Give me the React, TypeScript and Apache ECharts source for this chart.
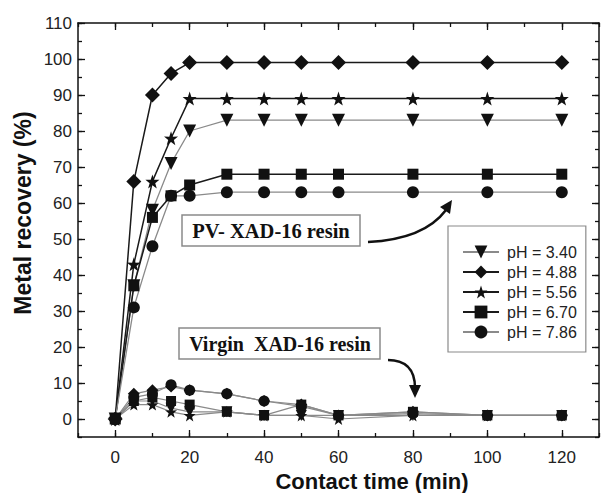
import React, { useEffect, useRef } from 'react';
import * as echarts from 'echarts';

// Contact time (min)
const times = [0, 5, 10, 15, 20, 30, 40, 50, 60, 80, 100, 120];
const legendNames = ['pH = 3.40', 'pH = 4.88', 'pH = 5.56', 'pH = 6.70', 'pH = 7.86'];

// PV- XAD-16 resin, metal recovery (%)
const pv340 = [0, 37, 58, 71, 80, 83, 83, 83, 83, 83, 83, 83];
const pv488 = [0, 66, 90, 96, 99, 99, 99, 99, 99, 99, 99, 99];
const pv556 = [0, 43, 66, 78, 89, 89, 89, 89, 89, 89, 89, 89];
const pv670 = [0, 37, 56, 62, 65, 68, 68, 68, 68, 68, 68, 68];
const pv786 = [0, 31, 48, 62, 62, 63, 63, 63, 63, 63, 63, 63];

// Virgin XAD-16 resin, metal recovery (%)
const vg340 = [0, 5, 5, 3, 2, 2, 1, 1, 1, 1, 1, 1];
const vg488 = [0, 7, 8, 9, 8, 7, 5, 4, 1, 2, 1, 1];
const vg556 = [0, 4, 4, 2, 1, 2, 1, 1, 0, 1, 1, 1];
const vg670 = [0, 5, 6, 5, 4, 2, 1, 4, 1, 2, 1, 1];
const vg786 = [0, 6, 7, 9.5, 8, 7, 5, 3.5, 1, 1.5, 1, 1];

// Axis ticks
const xMajorTicks = [0, 20, 40, 60, 80, 100, 120];
const yMajorTicks = [0, 10, 20, 30, 40, 50, 60, 70, 80, 90, 100, 110];

const TRI_DOWN = 'path://M0,0 L10,0 L5,9 Z';
const STAR = 'path://M50,0 L61.8,35.1 L97.6,34.5 L69.1,56.9 L79.4,90.5 L50,70 L20.6,90.5 L30.9,56.9 L2.4,34.5 L38.2,35.1 Z';

const FONT = '"Liberation Sans", Arial, sans-serif';
const SERIF = '"Liberation Serif", "Times New Roman", serif';

export default function App() {
  const ref = useRef<HTMLDivElement>(null);
  useEffect(() => {
    if (!ref.current) return;
    const chart = echarts.init(ref.current, undefined, { renderer: 'svg' });

    const mk = (name: string, vals: number[], symbol: string, size: number, lineColor: string, lw: number, z: number) => ({
      type: 'line',
      name,
      xAxisIndex: 0,
      yAxisIndex: 0,
      data: times.map((t, i) => [t, vals[i]]),
      symbol,
      symbolSize: size,
      showSymbol: true,
      z,
      itemStyle: { color: '#111', borderWidth: 0 },
      lineStyle: { color: lineColor, width: lw },
      emphasis: { disabled: true },
    });

    const GRAY = '#8a8a8a';
    const DARK = '#1a1a1a';

    const series = [
      mk('Virgin pH = 3.40', vg340, TRI_DOWN, 11, GRAY, 1.2, 2),
      mk('Virgin pH = 4.88', vg488, 'diamond', 12, GRAY, 1.2, 2),
      mk('Virgin pH = 5.56', vg556, STAR, 12, GRAY, 1.2, 2),
      mk('Virgin pH = 6.70', vg670, 'rect', 10, GRAY, 1.2, 2),
      mk('Virgin pH = 7.86', vg786, 'circle', 11, GRAY, 1.2, 2),
      mk(legendNames[0], pv340, TRI_DOWN, 13, GRAY, 1.3, 3),
      mk(legendNames[1], pv488, 'diamond', 15, DARK, 1.5, 3),
      mk(legendNames[2], pv556, STAR, 14, DARK, 1.5, 3),
      mk(legendNames[3], pv670, 'rect', 11, DARK, 1.5, 3),
      mk(legendNames[4], pv786, 'circle', 12, GRAY, 1.3, 3),
    ];

    const axisLine = { show: true, onZero: false, lineStyle: { color: '#111', width: 1.5 } };
    const noLine = { show: false, onZero: false };
    const tickStyle = { color: '#111', width: 1.3 };
    const labelStyle = { fontFamily: FONT, fontSize: 17, color: '#222' };

    const xBase = { type: 'value', min: -10, max: 130, splitLine: { show: false } };
    const yBase = { type: 'value', min: -5, max: 110, splitLine: { show: false } };

    chart.setOption({
      animation: false,
      backgroundColor: '#fff',
      grid: { left: 78, top: 23, width: 527, height: 414, containLabel: false },
      xAxis: [
        {
          ...xBase, position: 'bottom', interval: 10,
          axisLine,
          axisTick: { show: true, inside: true, length: 4, lineStyle: tickStyle },
          axisLabel: {
            ...labelStyle, margin: 12,
            formatter: (v: number) => (v >= 0 && v <= 120 && v % 20 === 0 ? String(v) : ''),
          },
        },
        {
          ...xBase, position: 'bottom', interval: 10,
          axisLine: noLine,
          axisTick: { show: true, inside: true, length: 7, lineStyle: tickStyle, customValues: xMajorTicks },
          axisLabel: { show: false },
        },
        {
          ...xBase, position: 'top', interval: 10,
          axisLine,
          axisTick: { show: true, inside: true, length: 4, lineStyle: tickStyle },
          axisLabel: { show: false },
        },
        {
          ...xBase, position: 'top', interval: 10,
          axisLine: noLine,
          axisTick: { show: true, inside: true, length: 7, lineStyle: tickStyle, customValues: xMajorTicks },
          axisLabel: { show: false },
        },
      ],
      yAxis: [
        {
          ...yBase, position: 'left', interval: 5,
          axisLine,
          axisTick: { show: true, inside: true, length: 4, lineStyle: tickStyle },
          axisLabel: {
            ...labelStyle, margin: 6,
            formatter: (v: number) => (v >= 0 && v % 10 === 0 ? String(v) : ''),
          },
        },
        {
          ...yBase, position: 'left', interval: 5,
          axisLine: noLine,
          axisTick: { show: true, inside: true, length: 7, lineStyle: tickStyle, customValues: yMajorTicks },
          axisLabel: { show: false },
        },
        {
          ...yBase, position: 'right', interval: 5,
          axisLine,
          axisTick: { show: true, inside: true, length: 4, lineStyle: tickStyle },
          axisLabel: { show: false },
        },
        {
          ...yBase, position: 'right', interval: 5,
          axisLine: noLine,
          axisTick: { show: true, inside: true, length: 7, lineStyle: tickStyle, customValues: yMajorTicks },
          axisLabel: { show: false },
        },
      ],
      legend: {
        data: legendNames,
        orient: 'vertical',
        left: 448,
        top: 226,
        itemWidth: 36,
        itemHeight: 16,
        itemGap: 4,
        padding: [18, 9, 12, 14],
        borderColor: '#8a8a8a',
        borderWidth: 1.2,
        selectedMode: false,
        textStyle: { fontFamily: FONT, fontSize: 16, color: '#222', padding: [0, 0, 0, 3] },
      },
      graphic: [
        {
          type: 'rect', z: 100,
          shape: { x: 182, y: 215, width: 178, height: 31 },
          style: { fill: '#fff', stroke: '#8a8a8a', lineWidth: 1.5 },
        },
        {
          type: 'text', z: 101, x: 271, y: 231,
          style: {
            text: 'PV- XAD-16 resin', fontFamily: SERIF, fontSize: 20.5, fontWeight: 'bold',
            fill: '#111', align: 'center', verticalAlign: 'middle',
          },
        },
        {
          type: 'rect', z: 100,
          shape: { x: 179, y: 328, width: 201, height: 31 },
          style: { fill: '#fff', stroke: '#8a8a8a', lineWidth: 1.5 },
        },
        {
          type: 'text', z: 101, x: 280, y: 344,
          style: {
            text: 'Virgin  XAD-16 resin', fontFamily: SERIF, fontSize: 20, fontWeight: 'bold',
            fill: '#111', align: 'center', verticalAlign: 'middle',
          },
        },
        {
          type: 'bezierCurve', z: 100,
          shape: { x1: 368, y1: 242, cpx1: 410, cpy1: 240, cpx2: 434, cpy2: 226, x2: 446, y2: 210 },
          style: { stroke: '#111', lineWidth: 2.5, fill: null },
        },
        {
          type: 'polygon', z: 100,
          shape: { points: [[452, 200], [450, 214], [440, 207]] },
          style: { fill: '#111' },
        },
        {
          type: 'bezierCurve', z: 100,
          shape: { x1: 388, y1: 360, cpx1: 404, cpy1: 360, cpx2: 415, cpy2: 368, x2: 415, y2: 388 },
          style: { stroke: '#111', lineWidth: 2.5, fill: null },
        },
        {
          type: 'polygon', z: 100,
          shape: { points: [[415, 398], [409, 385], [421, 385]] },
          style: { fill: '#111' },
        },
        {
          type: 'text', z: 101, x: 23, y: 213, rotation: Math.PI / 2,
          style: {
            text: 'Metal recovery (%)', fontFamily: FONT, fontSize: 23, fontWeight: 'bold',
            fill: '#111', align: 'center', verticalAlign: 'middle',
          },
        },
        {
          type: 'text', z: 101, x: 372, y: 481,
          style: {
            text: 'Contact time (min)', fontFamily: FONT, fontSize: 22, fontWeight: 'bold',
            fill: '#111', align: 'center', verticalAlign: 'middle',
          },
        },
      ],
      series,
    });

    return () => chart.dispose();
  }, []);

  return (
    <div
      ref={ref}
      style={{ position: 'fixed', left: 0, top: 0, width: 602, height: 493, background: '#fff' }}
    />
  );
}
